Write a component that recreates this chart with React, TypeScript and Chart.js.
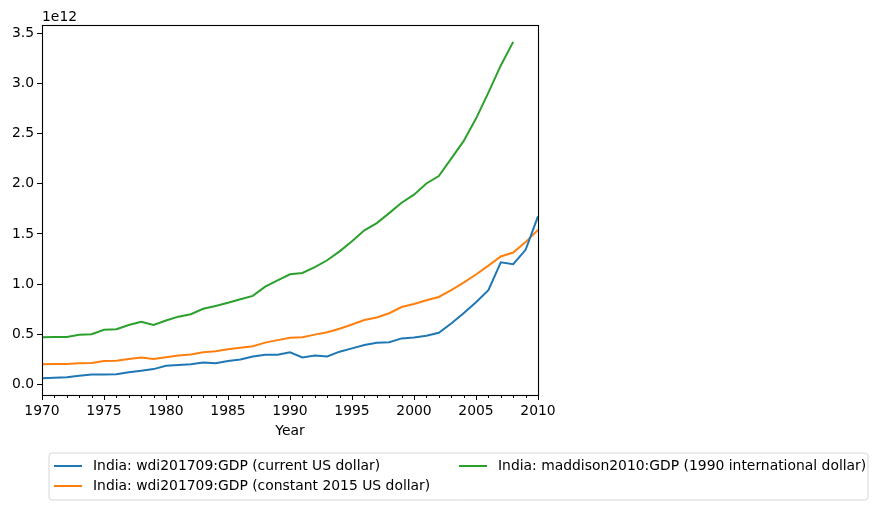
import React, { useEffect, useRef } from "react";
import { Chart, registerables } from "chart.js";

Chart.register(...registerables);

const years: number[] = [];
for (let y = 1970; y <= 2010; y++) years.push(y);

// values in units of 1e12
const currentUSD = [
  0.062, 0.067, 0.072, 0.086, 0.1, 0.099, 0.103, 0.122, 0.137, 0.153,
  0.186, 0.194, 0.201, 0.218, 0.212, 0.233, 0.249, 0.279, 0.297, 0.296,
  0.321, 0.27, 0.288, 0.279, 0.327, 0.36, 0.393, 0.416, 0.421, 0.459,
  0.468, 0.485, 0.515, 0.608, 0.709, 0.82, 0.94, 1.217, 1.199, 1.342,
  1.676,
];
const constant2015 = [
  0.202, 0.205, 0.204, 0.211, 0.213, 0.233, 0.237, 0.254, 0.269, 0.255,
  0.272, 0.288, 0.298, 0.32, 0.332, 0.35, 0.366, 0.381, 0.417, 0.442,
  0.466, 0.471, 0.497, 0.521, 0.556, 0.598, 0.643, 0.668, 0.71, 0.772,
  0.802, 0.84, 0.872, 0.941, 1.016, 1.096, 1.185, 1.276, 1.315, 1.419,
  1.54,
];
const maddison1990 = [
  0.47, 0.474, 0.473, 0.495, 0.5, 0.545, 0.551, 0.592, 0.626, 0.593,
  0.637, 0.676, 0.7, 0.754, 0.783, 0.814, 0.849, 0.883, 0.975, 1.038,
  1.098, 1.112, 1.17, 1.238, 1.327, 1.427, 1.536, 1.608, 1.708, 1.811,
  1.892, 2.003, 2.077, 2.251, 2.425, 2.65, 2.909, 3.18, 3.415,
];

const seriesNames = [
  "India: wdi201709:GDP (current US dollar)",
  "India: wdi201709:GDP (constant 2015 US dollar)",
  "India: maddison2010:GDP (1990 international dollar)",
];
const colors = ["#1f77b4", "#ff7f0e", "#2ca02c"];
const FONT = '"DejaVu Sans", sans-serif';
const FS = 13.9;

const decor = {
  id: "decor",
  afterDraw(chart: any) {
    const { ctx, chartArea: a, scales } = chart;
    ctx.save();
    // minor x ticks
    ctx.strokeStyle = "#000";
    ctx.lineWidth = 1;
    for (let y = 1970; y <= 2010; y++) {
      if (y % 5 === 0) continue;
      const px = Math.round(scales.x.getPixelForValue(y)) + 0.5;
      ctx.beginPath();
      ctx.moveTo(px, a.bottom);
      ctx.lineTo(px, a.bottom + 3);
      ctx.stroke();
    }
    // spines
    ctx.lineWidth = 1.1;
    ctx.strokeRect(Math.round(a.left) + 0.5, Math.round(a.top) + 0.5, Math.round(a.right - a.left), Math.round(a.bottom - a.top));
    // offset text
    ctx.fillStyle = "#000";
    ctx.font = `${FS}px ${FONT}`;
    ctx.textAlign = "left";
    ctx.textBaseline = "alphabetic";
    ctx.fillText("1e12", a.left, 21);
    // x title
    ctx.textAlign = "center";
    ctx.textBaseline = "middle";
    ctx.fillText("Year", (a.left + a.right) / 2, 431);
    // legend
    const bx = 49, by = 453, bw = 819, bh = 47, r = 3;
    ctx.beginPath();
    ctx.moveTo(bx + r, by);
    ctx.arcTo(bx + bw, by, bx + bw, by + bh, r);
    ctx.arcTo(bx + bw, by + bh, bx, by + bh, r);
    ctx.arcTo(bx, by + bh, bx, by, r);
    ctx.arcTo(bx, by, bx + bw, by, r);
    ctx.closePath();
    ctx.fillStyle = "rgba(255,255,255,0.8)";
    ctx.fill();
    ctx.strokeStyle = "#d6d6d6";
    ctx.lineWidth = 1;
    ctx.stroke();
    const items = [
      { i: 0, sx: 54, tx: 93, y: 466 },
      { i: 1, sx: 54, tx: 93, y: 486 },
      { i: 2, sx: 459, tx: 498, y: 466 },
    ];
    ctx.textAlign = "left";
    ctx.textBaseline = "middle";
    for (const it of items) {
      ctx.strokeStyle = colors[it.i];
      ctx.lineWidth = 2;
      ctx.beginPath();
      ctx.moveTo(it.sx, it.y);
      ctx.lineTo(it.sx + 28, it.y);
      ctx.stroke();
      ctx.fillStyle = "#000";
      ctx.fillText(seriesNames[it.i], it.tx, it.y);
    }
    ctx.restore();
  },
};

export default function App() {
  const ref = useRef<HTMLCanvasElement | null>(null);
  useEffect(() => {
    if (!ref.current) return;
    const sets = [currentUSD, constant2015, maddison1990];
    const chart = new Chart(ref.current, {
      type: "line",
      data: {
        datasets: sets.map((vals, k) => ({
          label: seriesNames[k],
          data: vals.map((v, i) => ({ x: years[i], y: v })),
          borderColor: colors[k],
          backgroundColor: colors[k],
          borderWidth: 2,
          pointRadius: 0,
          tension: 0,
          fill: false,
        })),
      },
      options: {
        animation: false,
        responsive: false,
        layout: { padding: { top: 25, right: 342, bottom: 0, left: 0 } },
        plugins: { legend: { display: false }, tooltip: { enabled: false } },
        scales: {
          x: {
            type: "linear",
            min: 1970,
            max: 2010,
            afterFit: (s: any) => { s.height = 114; },
            grid: { drawOnChartArea: false, drawTicks: true, tickLength: 5, color: "#000", tickColor: "#000" },
            border: { display: false },
            ticks: {
              stepSize: 5,
              color: "#000",
              padding: 3,
              maxRotation: 0,
              autoSkip: false,
              font: { family: FONT, size: FS },
              callback: (v: any) => String(v),
            },
          },
          y: {
            type: "linear",
            min: -0.105,
            max: 3.583,
            afterFit: (s: any) => { s.width = 42; },
            grid: { drawOnChartArea: false, drawTicks: true, tickLength: 5, color: "#000", tickColor: "#000" },
            border: { display: false },
            ticks: {
              stepSize: 0.5,
              includeBounds: false,
              color: "#000",
              padding: 3,
              font: { family: FONT, size: FS },
              callback: (v: any) => Number(v).toFixed(1),
            },
          },
        },
      },
      plugins: [decor],
    } as any);
    return () => chart.destroy();
  }, []);
  return (
    <div style={{ position: "absolute", left: 0, top: 0, width: 880, height: 509, background: "#fff" }}>
      <canvas ref={ref} width={880} height={509} style={{ display: "block" }} />
    </div>
  );
}
